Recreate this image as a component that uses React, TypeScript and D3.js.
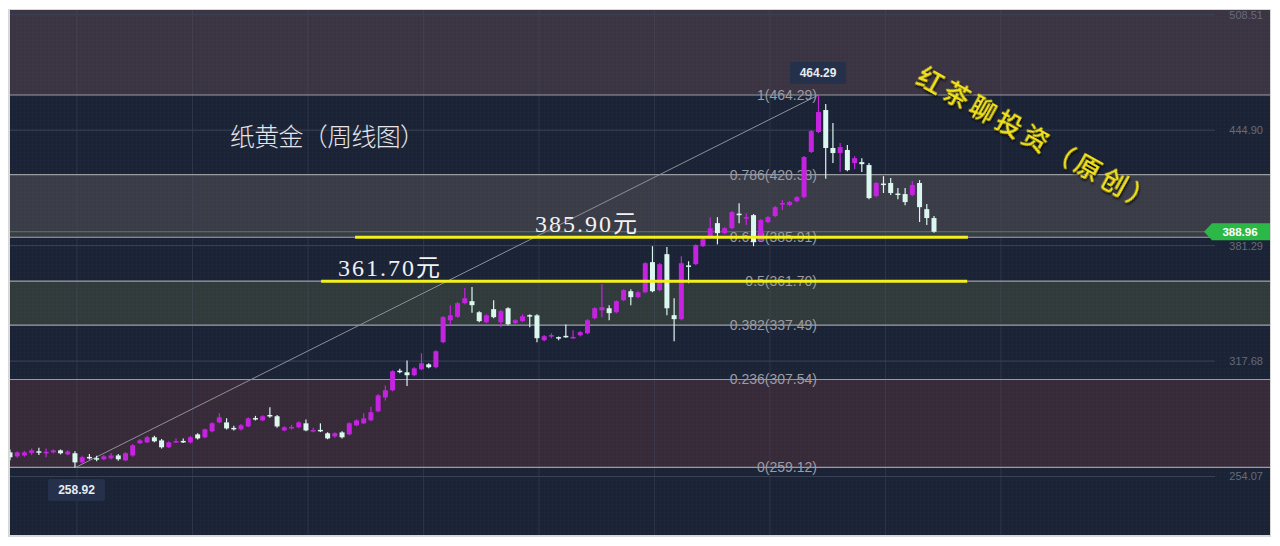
import React from 'react';
import * as d3 from 'd3';

// ---- data (weekly paper gold) ----
const opens = [267.4,265.2,265.7,267.0,268.0,267.2,267.4,268.5,266.3,266.9,
261.9,264.9,264.2,263.6,264.1,265.7,263.0,265.7,272.4,272.9,
275.7,274.0,270.2,273.2,273.7,272.9,277.3,275.7,279.0,283.9,
283.9,280.9,280.1,281.7,286.3,285.05,288.0,287.3,279.5,281.0,
281.2,283.4,279.3,279.8,277.9,276.2,278.4,277.3,282.3,283.4,
285.1,290.0,297.7,301.6,312.4,311.5,309.9,313.2,315.9,314.3,
328.1,340.2,342.1,349.6,350.7,344.6,339.1,346.3,339.1,346.8,
338.6,339.7,343.0,342.9,329.2,331.6,330.9,331.6,330.6,331.9,
333.0,341.3,345.7,346.8,344.6,351.2,356.2,352.9,355.6,372.2,
356.8,376.6,343.0,340.8,370.4,371.1,381.0,386.0,393.7,388.2,
390.9,398.9,396.2,398.1,384.3,394.3,397.6,404.4,403.6,405.8,
408.0,432.9,443.9,456.0,435.1,432.3,434.0,426.8,427.3,425.7,
408.6,415.5,415.8,410.0,409.7,409.2,415.8,401.4,396.5];
const highs = [269,268,268.2,269.5,270,269.6,269,269,268.5,268,
265.5,266.5,265.5,266,267,266.5,267.5,272,274.8,276.5,
276.5,274.8,273.5,275,275,276.5,278,280.6,284,289,
286.2,282,283,286.8,287.5,287.8,292.2,288,281.8,282.5,
284.5,285.5,281,283.4,278.5,278.5,279,284,285.6,289,
292.5,299.5,304.3,312.6,313.5,318,314.3,322,316.5,323.7,
342.5,348.5,350.3,357.9,358.5,345.2,343.5,351.2,346,347.4,
340.8,343.5,343.5,343.5,332,333,331.2,337.9,334.7,334.2,
340.8,347.4,360.1,348.5,351.2,357.3,357.3,356.5,372.2,381.0,
371.7,380.5,352.3,375.5,372.7,382.1,385.5,397.0,397.0,391.5,
400.4,404.7,399.2,398.7,396,397.6,403.1,406.4,405.9,408.6,
430.7,445,464.29,459.3,448.8,437.8,436.7,430.6,429.5,426.8,
416.3,419.6,418.5,413.0,413.0,416.9,417.4,404.2,397.6];
const lows = [263,264.5,265,266,266,264.7,266.8,266.3,265.8,258.92,
261,263.5,262.5,263,263.5,262.8,262.5,265,272,272.5,
273,269.5,269.8,272.5,272.5,272.3,274.5,275.2,278.5,283.5,
280,279.5,279.5,281.2,285,284.5,286.5,281,279,280,
280.7,279,278.5,278.6,274.6,275.5,275,276.8,281.8,283,
284.5,289.5,296,301.0,311,304,309.4,312.6,313.7,313.7,
327.5,337.4,341.5,349,344.3,339.1,338.5,341.3,336.4,337.4,
338,339.1,336.4,328.1,328.6,330.3,329.2,330.5,330,331.3,
332.4,340.7,341.9,340.2,344,350.7,348.5,352.3,355,355.6,
356.2,343.0,328.6,340.2,360.6,370.5,380.5,385.4,382,387.6,
390.3,393.7,392.6,381,383.7,393.7,397,400.9,403,405.2,
407.4,432.3,443.3,418.2,426.8,421.8,422.3,423.5,421.8,406.9,
408.0,410.3,409.2,406.9,403.6,408.6,394.3,392.6,388.4];
const closes = [264.7,267.4,267.4,268.5,267.6,267.7,268.5,266.9,267.9,261.9,
264.7,264.4,263.9,265.2,265.7,263.6,266.9,271.3,274.0,275.7,
273.5,270.2,272.9,273.6,273.3,275.7,275.1,280.1,283.4,286.7,
280.6,280.4,282.3,286.1,285.9,287.3,287.6,281.7,281.2,281.4,
283.9,279.5,279.7,279.4,275.1,277.9,275.7,283.4,285.0,286.1,
289.5,298.8,301.6,312.1,312.0,309.9,313.7,316.5,314.3,323.1,
341.9,342.9,349.6,352.3,348.5,339.7,342.9,341.9,345.2,338.0,
340.2,342.4,342.6,330.3,331.4,332.0,330.8,331.2,331.0,333.6,
340.2,346.8,347.4,344.1,350.7,356.8,352.9,355.6,371.6,356.2,
371.1,346.8,340.8,371.6,369.9,381.6,384.9,390.9,388.2,390.9,
399.8,398.5,397.0,383.2,395.4,397.0,402.5,404.8,405.3,408.0,
430.1,444.4,454.9,435.1,432.3,435.6,422.9,429.5,426.2,407.5,
415.8,415.1,410.3,409.6,405.3,414.7,402.5,396.5,388.96];

const fibRatios = ['0', '0.236', '0.382', '0.5', '0.618', '0.786', '1'];
const fibPrices = [259.12, 307.54, 337.49, 361.70, 385.91, 420.38, 464.29];
const axisTicks = [508.51, 444.90, 381.29, 317.68, 254.07];
const lowIndex = 9;
const highIndex = 112;
const lowLabel = '258.92';
const highLabel = '464.29';
const lastPrice = 388.96;
const supportLevels = [385.90, 361.70];
const supportLabels = ['385.90元', '361.70元'];
const titleText = '纸黄金（周线图）';
const signText = '红茶聊投资（原创）';

const W = 1280, H = 546;
const PL = 10, PR = 1270, PT = 10, PB = 535;

export default function App() {
  const n = opens.length;
  const x = d3.scaleLinear().domain([0, n - 1]).range([10, 934]);
  const y = d3.scaleLinear().domain([fibPrices[0], fibPrices[6]]).range([467.4, 95]);
  const up = '#c424e0';
  const down = '#dcf6f0';
  const bw = 5;

  const bandEdges = [PB, ...fibPrices.map((p) => y(p)), PT];
  const bandColors = ['#1b2336', '#372b3a', '#1b2336', '#313b3c', '#1b2336', '#3a3c47', '#1b2336', '#3b3443'];

  const verticals = d3.range(lowIndex, n + 20, 16);

  return (
    <svg width={W} height={H} style={{ position: 'absolute', left: 0, top: 0 }} fontFamily="Liberation Sans, Arial, sans-serif">
      <defs>
        <pattern id="dots" width="4" height="4" patternUnits="userSpaceOnUse">
          <rect x="0" y="0" width="1" height="1" fill="rgba(255,255,255,0.035)" />
        </pattern>
        <clipPath id="panel">
          <rect x={PL} y={PT} width={PR - PL} height={PB - PT} />
        </clipPath>
        <filter id="shadow" x="-10%" y="-10%" width="120%" height="120%">
          <feDropShadow dx="1.5" dy="1.5" stdDeviation="1" floodColor="#000" floodOpacity="0.9" />
        </filter>
      </defs>
      <rect x="0" y="0" width={W} height={H} fill="#ffffff" />
      <rect x={PL - 2} y={PT - 1} width={PR - PL + 3} height={PB - PT + 3} fill="#d8d8d8" />
      <g clipPath="url(#panel)">
        {bandColors.map((c, i) => (
          <rect key={'b' + i} x={PL} y={bandEdges[i + 1]} width={PR - PL} height={bandEdges[i] - bandEdges[i + 1]} fill={c} />
        ))}
        <rect x={PL} y={PT} width={PR - PL} height={PB - PT} fill="url(#dots)" />
        {verticals.map((v) => (
          <line key={'v' + v} x1={x(v) + 2} x2={x(v) + 2} y1={PT} y2={PB} stroke="#4a5066" strokeOpacity="0.4" strokeWidth="1" />
        ))}
        {axisTicks.map((t) => (
          <line key={'h' + t} x1={PL} x2={1215} y1={y(t)} y2={y(t)} stroke="#3c4459" strokeWidth="1" />
        ))}
        {fibPrices.map((p) => (
          <line key={'f' + p} x1={PL} x2={PR} y1={y(p)} y2={y(p)} stroke="#9a9ba3" strokeWidth="1.2" />
        ))}
        <line x1={PL} x2={1205} y1={y(lastPrice)} y2={y(lastPrice)} stroke="#3f8a4e" strokeWidth="1" />
        <line x1={x(lowIndex)} y1={y(lows[lowIndex])} x2={x(highIndex)} y2={y(highs[highIndex])} stroke="#8f8f99" strokeWidth="1" />
        {fibPrices.map((p, i) => (
          <text key={'fl' + p} x={817} y={y(p)} dy="0.35em" textAnchor="end" fontSize="14" fill="#9b9ca4">
            {fibRatios[i]}({p.toFixed(2)})
          </text>
        ))}
        {opens.map((o, i) => {
          const c = closes[i];
          const col = c >= o ? up : down;
          const top = y(Math.max(o, c));
          const bot = y(Math.min(o, c));
          return (
            <g key={'c' + i}>
              <line x1={x(i)} x2={x(i)} y1={y(highs[i])} y2={y(lows[i])} stroke={col} strokeWidth="1.2" />
              <rect x={x(i) - bw / 2} y={top} width={bw} height={Math.max(1.5, bot - top)} fill={col} />
            </g>
          );
        })}
        {axisTicks.map((t) => (
          <text key={'a' + t} x={1263} y={y(t)} dy="0.35em" textAnchor="end" fontSize="11" fill="#656b7c">
            {t.toFixed(2)}
          </text>
        ))}
      </g>
      <line x1={x(47.8)} x2={x(132.7)} y1={y(supportLevels[0])} y2={y(supportLevels[0])} stroke="#f3f01c" strokeWidth="3" />
      <line x1={x(43.1)} x2={x(132.6)} y1={y(supportLevels[1])} y2={y(supportLevels[1])} stroke="#f3f01c" strokeWidth="3" />
      <text x={535} y={y(supportLevels[0]) - 5} fontSize="24" fill="#f2f2f2" fontFamily="Liberation Serif, 'Noto Sans CJK SC', serif" textLength="102" lengthAdjust="spacing">{supportLabels[0]}</text>
      <text x={338} y={y(supportLevels[1]) - 5} fontSize="24" fill="#f2f2f2" fontFamily="Liberation Serif, 'Noto Sans CJK SC', serif" textLength="102" lengthAdjust="spacing">{supportLabels[1]}</text>
      <text x={230} y={146} fontSize="25" fill="#e6e6ea" fontFamily="'Noto Sans CJK SC', sans-serif" fontWeight="300" textLength="195" lengthAdjust="spacing">{titleText}</text>
      <rect x={48} y={479} width={57} height={22} rx="2" fill="#25314a" />
      <text x={76.5} y={490} dy="0.35em" textAnchor="middle" fontSize="12" fontWeight="bold" fill="#e8ecf2">{lowLabel}</text>
      <rect x={790} y={62} width={56} height={22} rx="2" fill="#25314a" />
      <text x={818} y={73} dy="0.35em" textAnchor="middle" fontSize="12" fontWeight="bold" fill="#e8ecf2">{highLabel}</text>
      <path d={`M1204,${y(lastPrice)} L1212,${y(lastPrice) - 8.5} L1270,${y(lastPrice) - 8.5} L1270,${y(lastPrice) + 8.5} L1212,${y(lastPrice) + 8.5} Z`} fill="#2bb846" />
      <text x={1240} y={y(lastPrice)} dy="0.36em" textAnchor="middle" fontSize="11.5" fontWeight="bold" fill="#ffffff">{lastPrice.toFixed(2)}</text>
      <text transform="translate(1037,140) rotate(29)" textAnchor="middle" dy="0.35em" fontSize="26" fontWeight="500" fill="#f2e21a" fontFamily="'Noto Sans CJK SC', sans-serif" filter="url(#shadow)" letterSpacing="4">{signText}</text>
    </svg>
  );
}
